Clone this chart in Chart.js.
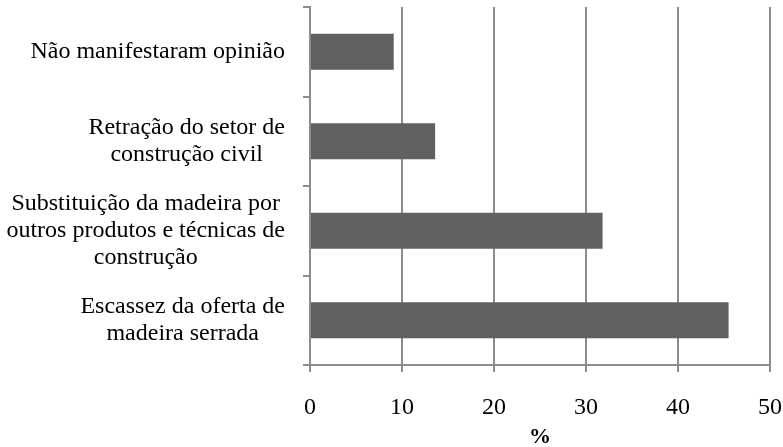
<!DOCTYPE html>
<html>
<head>
<meta charset="utf-8">
<script src="https://cdn.jsdelivr.net/npm/chart.js@4/dist/chart.umd.min.js"></script>
<style>
	html, body { margin: 0; padding: 0; background: #fff; }
	#wrap { width: 783px; height: 447px; }
</style>
</head>
<body>
<div id="wrap"><canvas id="grafico"></canvas></div>
<script>
// categorias de cima para baixo, cada linha do rótulo separada
var categorias = [
	["Não manifestaram opinião"],
	["Retração do setor de", "construção civil"],
	["Substituição da madeira por", "outros produtos e técnicas de", "construção"],
	["Escassez da oferta de", "madeira serrada"]
];
var valores = [9.1, 13.6, 31.8, 45.5];
var ticksX = [0, 10, 20, 30, 40, 50];

var fonte = "Liberation Serif";
var cinza = "#8c8c8c";

// rótulos do eixo y: bloco alinhado à direita, linhas centralizadas entre si
var rotulosY = {
	id: "rotulosY",
	afterDraw: function(chart){
		var ctx = chart.ctx, esc = chart.scales.y;
		var direita = esc.right - 25, alt = 26.7;
		ctx.save();
		ctx.font = "24px '" + fonte + "'";
		ctx.fillStyle = "#000";
		ctx.textAlign = "center";
		ctx.textBaseline = "middle";
		categorias.forEach(function(linhas, i){
			var largura = 0;
			linhas.forEach(function(l){ largura = Math.max(largura, ctx.measureText(l).width); });
			var cx = direita - largura / 2;
			var cy = esc.getPixelForValue(i);
			var y0 = cy - (linhas.length - 1) * alt / 2;
			linhas.forEach(function(l, k){ ctx.fillText(l, cx, y0 + k * alt); });
		});
		ctx.restore();
	}
};

new Chart(document.getElementById("grafico"), {
	type: "bar",
	data: {
		labels: categorias.map(function(c){ return c.join(" "); }),
		datasets: [{
			data: valores,
			backgroundColor: "#606060",
			barPercentage: 0.4,
			categoryPercentage: 1.0
		}]
	},
	options: {
		indexAxis: "y",
		responsive: true,
		maintainAspectRatio: false,
		animation: false,
		layout: { padding: { top: 7, right: 13, bottom: 0, left: 0 } },
		plugins: { legend: { display: false }, tooltip: { enabled: false } },
		scales: {
			x: {
				min: 0,
				max: 50,
				afterBuildTicks: function(esc){ esc.ticks = ticksX.map(function(v){ return { value: v }; }); },
				afterFit: function(esc){ esc.height = 82; esc.paddingRight = 0; esc.paddingLeft = 0; },
				grid: { color: cinza, lineWidth: 2, drawTicks: true, tickLength: 7 },
				border: { color: cinza, width: 2 },
				ticks: { color: "#000", font: { family: fonte, size: 24 }, padding: 21 },
				title: { display: true, text: "%", color: "#000", font: { family: fonte, size: 22, weight: "bold" }, padding: { top: 0, bottom: -4 } }
			},
			y: {
				offset: true,
				afterFit: function(esc){ esc.width = 310; },
				grid: { offset: true, drawOnChartArea: false, drawTicks: true, tickLength: 7, color: cinza, lineWidth: 2 },
				border: { color: cinza, width: 2 },
				ticks: { display: false }
			}
		}
	},
	plugins: [rotulosY]
});
</script>
</body>
</html>
